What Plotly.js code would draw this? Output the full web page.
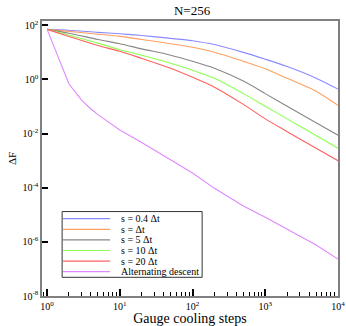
<!DOCTYPE html>
<html>
<head>
<meta charset="utf-8">
<script src="https://cdn.plot.ly/plotly-3.0.1.min.js"></script>
<style>
  html, body { margin: 0; padding: 0; background: #fff; }
  #chart { width: 346px; height: 326px; }
</style>
</head>
<body>
<div id="chart"></div>
<script>
// gauge cooling steps where the curves were read
const steps = [1, 2, 5, 10, 20, 50, 100, 200, 500, 1000, 2000, 5000, 10000];
const s04 = [71, 66, 55, 49, 42, 33, 27, 19.5, 10, 5.6, 3.0, 1.12, 0.44];
const s1 = [71, 60, 47, 39, 30, 21, 15.5, 10.2, 4.7, 2.5, 1.1, 0.37, 0.11];
const s5 = [71, 51, 30, 21, 13.5, 7.9, 4.7, 2.6, 0.87, 0.30, 0.102, 0.025, 0.0087];
const s10 = [71, 43, 22, 12.6, 7.9, 4.0, 2.2, 1.1, 0.30, 0.102, 0.035, 0.0085, 0.0029];
const s20 = [71, 39, 18, 11, 6.0, 2.6, 1.2, 0.52, 0.12, 0.035, 0.0118, 0.0029, 0.0010];

const descentSteps = [1, 2, 3, 4, 5, 7, 10, 20, 50, 100, 200, 500, 1000, 2000, 5000, 10000];
const descent = [71, 0.68, 0.17, 0.081, 0.050, 0.026, 0.0135, 0.0047, 0.00107,
  3.5e-4, 9.5e-5, 2.1e-5, 8.1e-6, 2.95e-6, 7.6e-7, 2.3e-7];

const seriesNames = ['s = 0.4 \u0394t', 's = \u0394t', 's = 5 \u0394t', 's = 10 \u0394t',
  's = 20 \u0394t', 'Alternating descent'];
const seriesColors = ['#8a8aff', '#ffa060', '#888888', '#8cff50', '#ff6060', '#e088ff'];

const xTickVals = [1, 10, 100, 1000, 10000];
const xTickText = ['10<sup>0</sup>', '10<sup>1</sup>', '10<sup>2</sup>', '10<sup>3</sup>', '10<sup>4</sup>'];
const yTickVals = [1e-8, 1e-6, 1e-4, 1e-2, 1, 100];
const yTickText = ['10<sup>-8</sup>', '10<sup>-6</sup>', '10<sup>-4</sup>', '10<sup>-2</sup>',
  '10<sup>0</sup>', '10<sup>2</sup>'];

const xs = [steps, steps, steps, steps, steps, descentSteps];
const ys = [s04, s1, s5, s10, s20, descent];

const traces = ys.map((y, i) => ({
  x: xs[i],
  y: y,
  name: seriesNames[i],
  type: 'scatter',
  mode: 'lines',
  line: {
    color: seriesColors[i], width: 1.1,
    shape: i < 5 ? 'spline' : 'linear', smoothing: 0.8
  },
}));

// hand made legend, plotly's own legend rows are too tall for this box
const shapes = [{
  type: 'rect', xref: 'paper', yref: 'paper',
  x0: 0.068, x1: 0.541, y0: 0.068, y1: 0.307,
  line: { color: '#333', width: 1 }, fillcolor: '#fff', layer: 'above'
}];
const annotations = [];
seriesNames.forEach((name, i) => {
  const yy = (296 - (218.7 + 10.6 * i)) / 275;
  shapes.push({
    type: 'line', xref: 'paper', yref: 'paper',
    x0: 0.071, x1: 0.23, y0: yy, y1: yy,
    line: { color: seriesColors[i], width: 1.2 }, layer: 'above'
  });
  annotations.push({
    xref: 'paper', yref: 'paper', x: 0.26, y: yy,
    xanchor: 'left', yanchor: 'middle', showarrow: false,
    text: name, font: { size: 10, color: '#000' }
  });
});

const layout = {
  width: 346,
  height: 326,
  margin: { l: 42, r: 8, t: 21, b: 30 },
  paper_bgcolor: '#fff',
  plot_bgcolor: '#fff',
  font: { family: 'Liberation Serif, serif', color: '#000' },
  title: {
    text: 'N=256', font: { size: 13 },
    x: 0.555, xanchor: 'center', y: 0.969, yanchor: 'middle'
  },
  showlegend: false,
  xaxis: {
    type: 'log',
    range: [-0.07, 4],
    tickmode: 'array',
    tickvals: xTickVals,
    ticktext: xTickText,
    ticks: 'inside', ticklen: 7, tickwidth: 2, tickcolor: '#000',
    minor: { dtick: 'D1', ticks: 'inside', ticklen: 4, tickwidth: 1, tickcolor: '#000', showgrid: false },
    showline: true, linecolor: '#808080', linewidth: 1.5, mirror: true,
    showgrid: false, zeroline: false,
    tickfont: { size: 10 },
    title: { text: 'Gauge cooling steps', font: { size: 14 }, standoff: 0 },
    automargin: false
  },
  yaxis: {
    type: 'log',
    range: [-8, 2.16],
    tickmode: 'array',
    tickvals: yTickVals,
    ticktext: yTickText,
    ticks: 'inside', ticklen: 6, tickwidth: 2, tickcolor: '#000',
    showline: true, linecolor: '#808080', linewidth: 1.5, mirror: true,
    showgrid: false, zeroline: false,
    tickfont: { size: 10 },
    title: { text: '\u0394F', font: { size: 11 }, standoff: 4 },
    automargin: false
  },
  shapes: shapes,
  annotations: annotations
};

Plotly.newPlot('chart', traces, layout, { displayModeBar: false, responsive: false });
</script>
</body>
</html>
